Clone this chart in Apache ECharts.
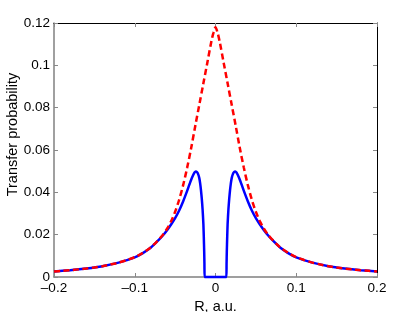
<!DOCTYPE html>
<html>
<head>
<meta charset="utf-8">
<script src="https://cdn.jsdelivr.net/npm/echarts@6/dist/echarts.min.js"></script>
<style>html,body{margin:0;padding:0;background:#fff}#c{width:415px;height:312px}</style>
</head>
<body>
<div id="c"></div>
<script>
// Red dashed curve
var redX = [-0.2,-0.19,-0.18,-0.17,-0.16,-0.15,-0.14,-0.13,-0.12,-0.11,-0.1,-0.09,-0.08,-0.075,-0.07,-0.065,-0.06,-0.055,-0.05,-0.045,-0.04,-0.035,-0.03,-0.025,-0.02,-0.015,-0.01,-0.005,-0.0025,0,
            0.0025,0.005,0.01,0.015,0.02,0.025,0.03,0.035,0.04,0.045,0.05,0.055,0.06,0.065,0.07,0.075,0.08,0.09,0.1,0.11,0.12,0.13,0.14,0.15,0.16,0.17,0.18,0.19,0.2];
var redY = [0.0026,0.0029,0.0032,0.0036,0.0040,0.0045,0.0051,0.0059,0.0068,0.0080,0.0094,0.0114,0.0140,0.0158,0.0178,0.0200,0.0228,0.0263,0.0308,0.0365,0.0435,0.0518,0.0612,0.0715,0.0815,0.0915,0.1015,0.1115,0.1155,0.118,
            0.1155,0.1115,0.1015,0.0915,0.0815,0.0715,0.0612,0.0518,0.0435,0.0365,0.0308,0.0263,0.0228,0.0200,0.0178,0.0158,0.0140,0.0114,0.0094,0.0080,0.0068,0.0059,0.0051,0.0045,0.0040,0.0036,0.0032,0.0029,0.0026];
// Blue solid curve
var blueX = [-0.2,-0.18,-0.16,-0.14,-0.12,-0.1,-0.09,-0.08,-0.07,-0.065,-0.06,-0.055,-0.05,-0.045,-0.04,-0.035,-0.0325,-0.03,-0.0275,-0.026,-0.0245,-0.023,-0.0215,-0.02,-0.019,-0.018,-0.017,-0.016,-0.015,-0.0145,-0.014,-0.0137,-0.0135,
             0.0135,0.0137,0.014,0.0145,0.015,0.016,0.017,0.018,0.019,0.02,0.0215,0.023,0.0245,0.026,0.0275,0.03,0.0325,0.035,0.04,0.045,0.05,0.055,0.06,0.065,0.07,0.08,0.09,0.1,0.12,0.14,0.16,0.18,0.2];
var blueY = [0.0026,0.0032,0.0040,0.0051,0.0068,0.0093,0.0113,0.0139,0.0176,0.0197,0.0221,0.0248,0.0278,0.0314,0.0358,0.0408,0.0435,0.0461,0.0483,0.0494,0.0499,0.0496,0.0486,0.0466,0.0442,0.0410,0.0370,0.0320,0.0250,0.0190,0.0120,0.0060,0,
             0,0.0060,0.0120,0.0190,0.0250,0.0320,0.0370,0.0410,0.0442,0.0466,0.0486,0.0496,0.0499,0.0494,0.0483,0.0461,0.0435,0.0408,0.0358,0.0314,0.0278,0.0248,0.0221,0.0197,0.0176,0.0139,0.0113,0.0093,0.0068,0.0051,0.0040,0.0032,0.0026];
var xTicks = [-0.2, -0.1, 0, 0.1, 0.2];
var yTicks = [0, 0.02, 0.04, 0.06, 0.08, 0.1, 0.12];
var xTitle = 'R, a.u.';
var yTitle = 'Transfer probability';

function pairs(xs, ys) { return xs.map(function (x, i) { return [x, ys[i]]; }); }
var FONT = 'Liberation Sans';
var chart = echarts.init(document.getElementById('c'), null, {renderer: 'canvas'});
var tickStyle = {show: true, inside: true, length: 4, lineStyle: {color: '#888', width: 1}};
chart.setOption({
  animation: false,
  grid: {left: 54, right: 38, top: 23, bottom: 35, containLabel: false, outerBoundsMode: 'none'},
  xAxis: [{
    type: 'value', min: xTicks[0], max: xTicks[xTicks.length - 1], interval: 0.1,
    axisLine: {show: true, onZero: false, lineStyle: {color: '#808080', width: 1.5}},
    axisTick: tickStyle, splitLine: {show: false},
    axisLabel: {color: '#000', fontSize: 13.5, fontFamily: FONT, margin: 4,
      formatter: function (v) { return String(+v.toFixed(2)).replace('-', '\u2013'); }},
    name: xTitle, nameLocation: 'middle', nameGap: 18,
    nameTextStyle: {color: '#000', fontSize: 14.5, fontFamily: FONT}
  }, {
    type: 'value', position: 'top', min: xTicks[0], max: xTicks[xTicks.length - 1], interval: 0.1,
    axisLine: {show: true, onZero: false, lineStyle: {color: '#000', width: 1}},
    axisTick: tickStyle, axisLabel: {show: false}, splitLine: {show: false}
  }],
  yAxis: [{
    type: 'value', min: yTicks[0], max: yTicks[yTicks.length - 1], interval: 0.02,
    axisLine: {show: true, onZero: false, lineStyle: {color: '#808080', width: 1.5}},
    axisTick: tickStyle, splitLine: {show: false},
    axisLabel: {color: '#000', fontSize: 13.5, fontFamily: FONT, margin: 4,
      formatter: function (v) { return String(+v.toFixed(2)); }}
  }, {
    type: 'value', position: 'right', min: yTicks[0], max: yTicks[yTicks.length - 1], interval: 0.02,
    axisLine: {show: true, onZero: false, lineStyle: {color: '#000', width: 1}},
    axisTick: tickStyle, axisLabel: {show: false}, splitLine: {show: false}
  }],
  graphic: [{
    type: 'text', x: 13, y: 134.5, rotation: Math.PI / 2,
    style: {text: yTitle, fill: '#000', font: '14.5px "Liberation Sans"', textAlign: 'center', textVerticalAlign: 'middle'}
  }],
  series: [{
    type: 'line', data: pairs(blueX, blueY), showSymbol: false, clip: false, smooth: 0.2,
    lineStyle: {color: '#0000ff', width: 2.5}, z: 2
  }, {
    type: 'line', data: pairs(redX, redY), showSymbol: false, clip: false, smooth: 0.3,
    lineStyle: {color: '#ff0000', width: 2.5, type: [6, 3.5]}, z: 3
  }]
});
</script>
</body>
</html>
